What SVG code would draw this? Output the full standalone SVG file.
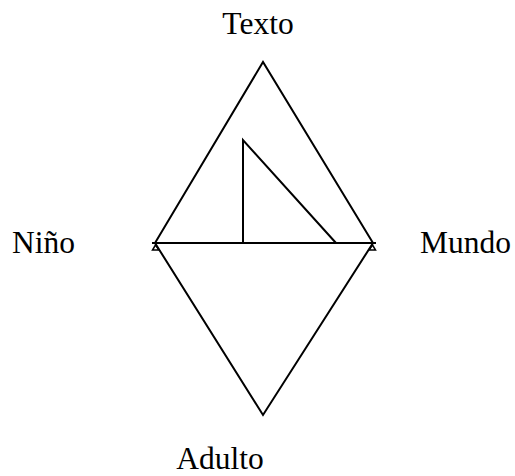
<svg xmlns="http://www.w3.org/2000/svg" width="515" height="476" viewBox="0 0 515 476">
<style>
.ln{fill:none;stroke:#000;stroke-width:2;stroke-linejoin:miter}
.ah{fill:none;stroke:#000;stroke-width:1.5}
.lbl{font-family:"Liberation Serif","Times New Roman",serif;font-size:31.5px;fill:#000}
</style>
<rect width="515" height="476" fill="#fff"/>
<g id="connectors">
<polyline class="ln" points="155,243 263,62 373,243"/>
<line class="ln" x1="152" y1="243" x2="376" y2="243"/>
<polyline class="ln" points="155,243 263,415 373,243"/>
<polyline class="ln" points="243,243 243,140 336,243"/>
<polygon class="ah" points="155.5,245 152.5,250 159,250"/>
<polygon class="ah" points="372.5,245 369,250 375.5,250"/>
</g>
<g id="texto"><text class="lbl" x="258" y="34" text-anchor="middle">Texto</text></g>
<g id="nino"><text class="lbl" x="12" y="253">Niño</text></g>
<g id="mundo"><text class="lbl" x="420" y="253">Mundo</text></g>
<g id="adulto"><text class="lbl" x="220" y="469" text-anchor="middle">Adulto</text></g>
</svg>
